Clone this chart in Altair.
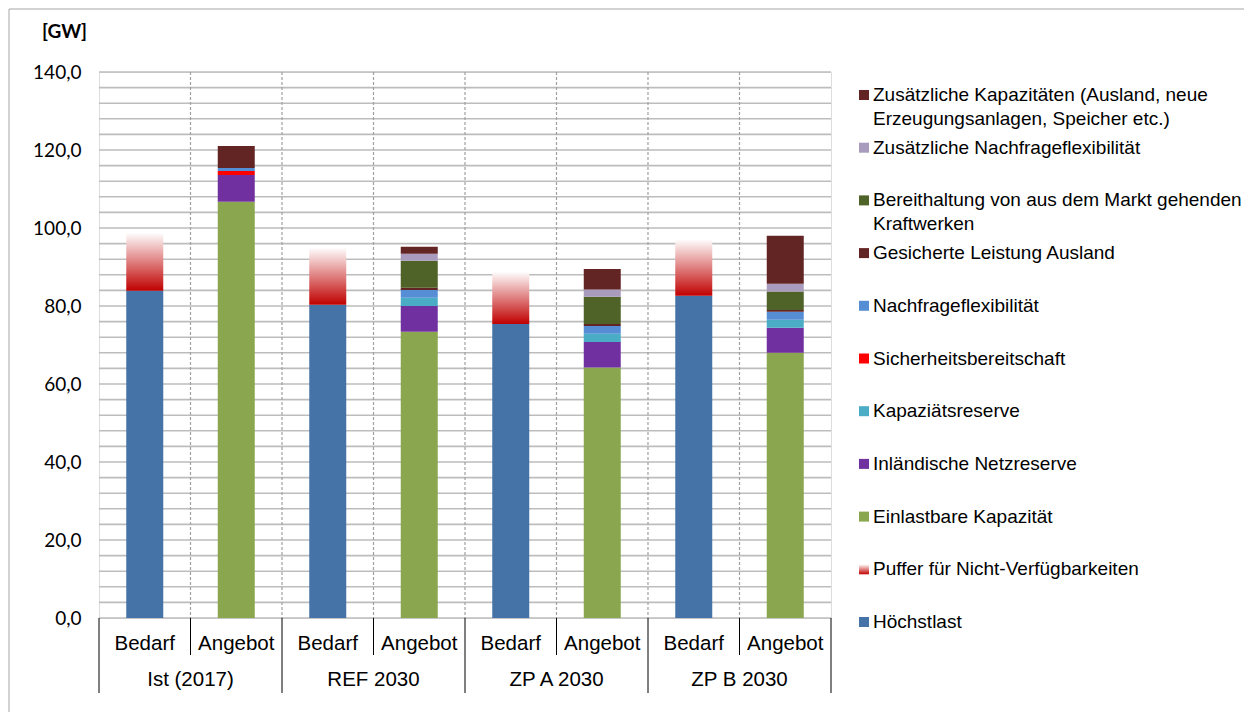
import altair as alt
import pandas as pd

scenarios = ["Ist (2017)", "REF 2030", "ZP A 2030", "ZP B 2030"]
sides = ["Bedarf", "Angebot"]

# Bedarf (demand) stack, bottom to top
hoechstlast = [83.9, 80.3, 75.4, 82.6]
puffer = [14.9, 14.7, 13.4, 14.5]

# Angebot (supply) stack, bottom to top
einlastbare = [106.7, 73.4, 64.2, 68.0]
netzreserve = [6.9, 6.6, 6.6, 6.4]
kapazitaetsreserve = [0.0, 2.1, 2.1, 2.1]
sicherheitsbereitschaft = [1.0, 0.0, 0.0, 0.0]
nachfrageflex = [0.8, 2.0, 2.0, 2.0]
gesichert_ausland = [5.6, 0.6, 0.5, 0.5]
bereithaltung = [0.0, 6.9, 7.0, 4.7]
zus_nachfrageflex = [0.0, 1.8, 1.8, 2.0]
zus_kapazitaeten = [0.0, 1.8, 5.3, 12.3]

series_names = [
    "Höchstlast",
    "Puffer für Nicht-Verfügbarkeiten",
    "Einlastbare Kapazität",
    "Inländische Netzreserve",
    "Kapaziätsreserve",
    "Sicherheitsbereitschaft",
    "Nachfrageflexibilität",
    "Gesicherte Leistung Ausland",
    "Bereithaltung von aus dem Markt gehenden Kraftwerken",
    "Zusätzliche Nachfrageflexibilität",
    "Zusätzliche Kapazitäten (Ausland, neue Erzeugungsanlagen, Speicher etc.)",
]
series_labels = [
    "Höchstlast",
    "Puffer für Nicht-Verfügbarkeiten",
    "Einlastbare Kapazität",
    "Inländische Netzreserve",
    "Kapaziätsreserve",
    "Sicherheitsbereitschaft",
    "Nachfrageflexibilität",
    "Gesicherte Leistung Ausland",
    "Bereithaltung von aus dem Markt gehenden\nKraftwerken",
    "Zusätzliche Nachfrageflexibilität",
    "Zusätzliche Kapazitäten (Ausland, neue\nErzeugungsanlagen, Speicher etc.)",
]
series_colors = [
    "#4573A7", "#C00000", "#8AA64E", "#7030A0", "#4BACC6", "#FF0000",
    "#558ED5", "#632523", "#4F6228", "#A99BBD", "#632523",
]
series_values = [
    hoechstlast, puffer, einlastbare, netzreserve, kapazitaetsreserve,
    sicherheitsbereitschaft, nachfrageflex, gesichert_ausland, bereithaltung,
    zus_nachfrageflex, zus_kapazitaeten,
]
bedarf_idx = [0, 1]
angebot_idx = [2, 3, 4, 5, 6, 7, 8, 9, 10]

rows = []
for g, sc in enumerate(scenarios):
    for s_i, idxs in enumerate([bedarf_idx, angebot_idx]):
        base = 0.0
        for i in idxs:
            v = series_values[i][g]
            if v > 0:
                rows.append(dict(scenario=sc, side=sides[s_i], xc=2 * g + s_i + 0.5,
                                 series=series_names[i], y0=base, y1=base + v))
            base += v
bars_df = pd.DataFrame(rows)

W, H = 732, 546
xscale = alt.Scale(domain=[0, 8], nice=False, zero=False, padding=0)
yscale = alt.Scale(domain=[0, 140], nice=False, zero=True, padding=0)
cscale = alt.Scale(domain=series_names, range=series_colors)

yaxis = alt.Axis(
    values=list(range(0, 141, 20)),
    labelExpr="replace(format(datum.value, '.1f'), '.', ',')",
    domain=False, ticks=False, grid=False,
    labelFont="Lato", labelFontSize=19, labelColor="black", labelPadding=18,
    title="[GW]", titleFont="Lato", titleFontSize=19, titleFontWeight="bold",
    titleColor="black", titleAngle=0, titleAlign="center", titleBaseline="middle",
    titleX=-35, titleY=-41,
)

grid_df = pd.DataFrame({"v": list(range(0, 141, 4))})
grid = alt.Chart(grid_df).mark_rule(color="#BDBDBD", strokeWidth=1.6).encode(
    y=alt.Y("v:Q", scale=yscale, axis=yaxis)
)

vgrid_df = pd.DataFrame({"v": list(range(1, 8))})
vgrid = alt.Chart(vgrid_df).mark_rule(color="#A0A0A0", strokeDash=[3, 2], strokeWidth=1.2).encode(
    x=alt.X("v:Q", scale=xscale, axis=None)
)

base_bars = alt.Chart(bars_df)
bars = base_bars.transform_filter(
    alt.datum.series != "Puffer für Nicht-Verfügbarkeiten"
).mark_bar(size=37).encode(
    x=alt.X("xc:Q", scale=xscale, axis=None),
    y=alt.Y("y0:Q", scale=yscale, axis=yaxis),
    y2="y1:Q",
    color=alt.Color("series:N", scale=cscale, legend=None),
)

grad = alt.LinearGradient(
    gradient="linear",
    stops=[alt.GradientStop(color="#C00000", offset=0),
           alt.GradientStop(color="#FFFFFF", offset=1)],
    x1=0, x2=0, y1=1, y2=0,
)
puffer_bars = base_bars.transform_filter(
    alt.datum.series == "Puffer für Nicht-Verfügbarkeiten"
).mark_bar(size=37, color=grad).encode(
    x=alt.X("xc:Q", scale=xscale, axis=None),
    y=alt.Y("y0:Q", scale=yscale, axis=yaxis),
    y2="y1:Q",
)

# category table below the plot
sep_df = pd.DataFrame({"k": list(range(0, 9)), "long": [k % 2 == 0 for k in range(9)]})
sep_short = alt.Chart(sep_df).transform_filter("!datum.long").mark_rule(color="black").encode(
    x=alt.X("k:Q", scale=xscale, axis=None), y=alt.value(H), y2=alt.value(H + 37)
)
sep_long = alt.Chart(sep_df).transform_filter("datum.long").mark_rule(color="black").encode(
    x=alt.X("k:Q", scale=xscale, axis=None), y=alt.value(H), y2=alt.value(H + 75)
)
sub_df = pd.DataFrame({"xc": [k + 0.5 for k in range(8)], "label": [sides[k % 2] for k in range(8)]})
sub_text = alt.Chart(sub_df).mark_text(font="Liberation Sans", fontSize=20.5, color="black",
                                       baseline="middle").encode(
    x=alt.X("xc:Q", scale=xscale, axis=None), y=alt.value(H + 26), text="label:N"
)
grp_df = pd.DataFrame({"xc": [2 * g + 1 for g in range(4)], "label": scenarios})
grp_text = alt.Chart(grp_df).mark_text(font="Liberation Sans", fontSize=20.5, color="black",
                                       baseline="middle").encode(
    x=alt.X("xc:Q", scale=xscale, axis=None), y=alt.value(H + 62), text="label:N"
)

one = pd.DataFrame({"a": [0]})
frame_left = alt.Chart(one).mark_rule(color="#A6A6A6").encode(
    x=alt.value(-90), y=alt.value(-63), y2=alt.value(640)
)
frame_top = alt.Chart(one).mark_rule(color="#A6A6A6").encode(
    x=alt.value(-90), x2=alt.value(1145), y=alt.value(-63)
)

main = alt.layer(grid, vgrid, bars, puffer_bars, sep_short, sep_long, sub_text, grp_text,
                 frame_left, frame_top)

# legend drawn as its own layer
legend_keys = series_names[::-1]
legend_df = pd.DataFrame({"key": legend_keys, "label": series_labels[::-1]})
leg_y = alt.Y("key:N", scale=alt.Scale(type="point", domain=legend_keys, range=[23, 550], padding=0),
              axis=None)
leg_sq = alt.Chart(legend_df).transform_filter(
    alt.datum.key != "Puffer für Nicht-Verfügbarkeiten"
).mark_square(size=100, opacity=1).encode(
    x=alt.value(765), y=leg_y, color=alt.Color("key:N", scale=cscale, legend=None)
)
leg_sq_puffer = alt.Chart(legend_df).transform_filter(
    alt.datum.key == "Puffer für Nicht-Verfügbarkeiten"
).mark_square(size=100, opacity=1, color=grad).encode(
    x=alt.value(765), y=leg_y
)
leg_text = alt.Chart(legend_df).mark_text(
    font="Liberation Sans", fontSize=19, color="black", align="left", baseline="top",
    dy=-9, lineBreak="\n", lineHeight=24
).encode(x=alt.value(774), y=leg_y, text="label:N")

legend = alt.layer(leg_sq, leg_sq_puffer, leg_text)

chart = alt.layer(main, legend).resolve_scale(y="independent").properties(
    width=W, height=H, padding=0
).configure_view(stroke="black", strokeWidth=1.2).configure(background="white")

chart.save("out.html", embed_options={"renderer": "svg", "actions": False})
